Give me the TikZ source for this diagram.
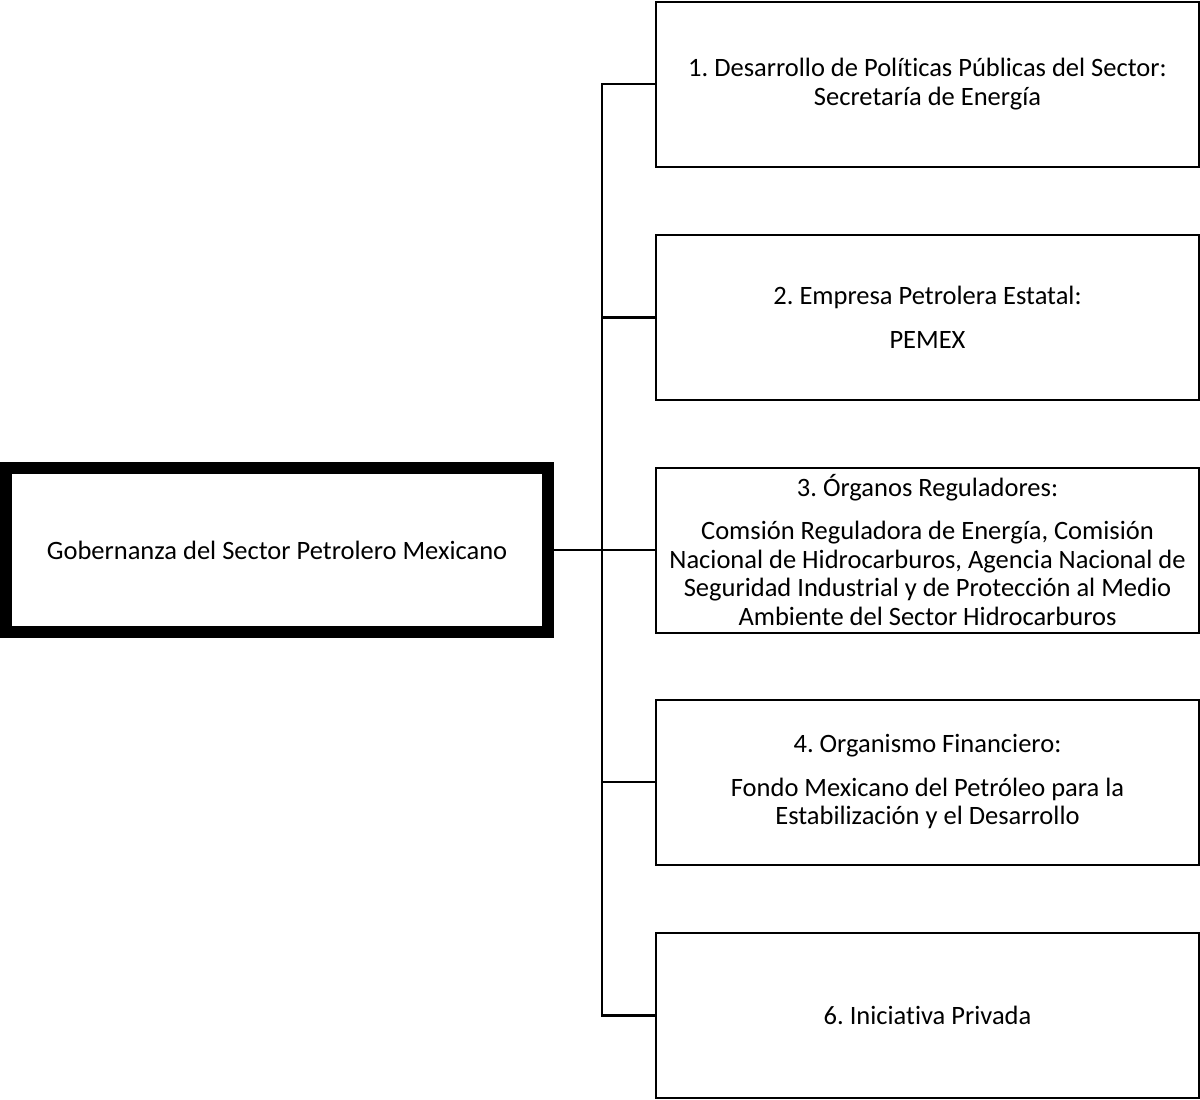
\documentclass[tikz,border=0pt]{standalone}
\usepackage{fontspec}
\setmainfont{Carlito}[Ligatures=NoCommon]
\usetikzlibrary{positioning}

\begin{document}
\frenchspacing
\begin{tikzpicture}[x=1pt, y=-1pt,
  every node/.style={font=\fontsize{26.5}{28.5}\selectfont, align=center, inner sep=0pt},
  caja/.style={draw, line width=2pt, minimum width=543pt, minimum height=165pt},
  cajamadre/.style={draw, line width=12pt, minimum width=542pt, minimum height=164.5pt},
  linea/.style={line width=2.5pt}]

\useasboundingbox (0,0) rectangle (1200,1100);

% --- Nodo principal (izquierda) ---
\node[cajamadre] (gob) at (277,550) {Gobernanza del Sector Petrolero Mexicano};

% --- Actores del sector (derecha) ---
\node[caja] (a1) at (927.5,84) {1. Desarrollo de Políticas Públicas del Sector:\\Secretaría de Energía};
\node[caja] (a2) at (927.5,317.5) {2. Empresa Petrolera Estatal:\\[15pt]PEMEX};
\node[caja] (a3) at (927.5,550) {3. Órganos Reguladores:\\[15pt]Comsión Reguladora de Energía, Comisión\\Nacional de Hidrocarburos, Agencia Nacional de\\Seguridad Industrial y de Protección al Medio\\Ambiente del Sector Hidrocarburos};
\node[caja] (a4) at (927.5,782) {4. Organismo Financiero:\\[15pt]Fondo Mexicano del Petróleo para la\\Estabilización y el Desarrollo};
\node[caja] (a5) at (927.5,1015.5) {6. Iniciativa Privada};

% --- Conectores ---
\coordinate (tronco) at (602,550);
\draw[linea] (gob.east) -- (tronco);
\draw[linea] (a1.west) -- (a1.west -| tronco) -- (a5.west -| tronco) -- (a5.west);
\foreach \i in {2,3,4}{
  \draw[linea] (tronco |- a\i.west) -- (a\i.west);
}

\end{tikzpicture}
\end{document}
